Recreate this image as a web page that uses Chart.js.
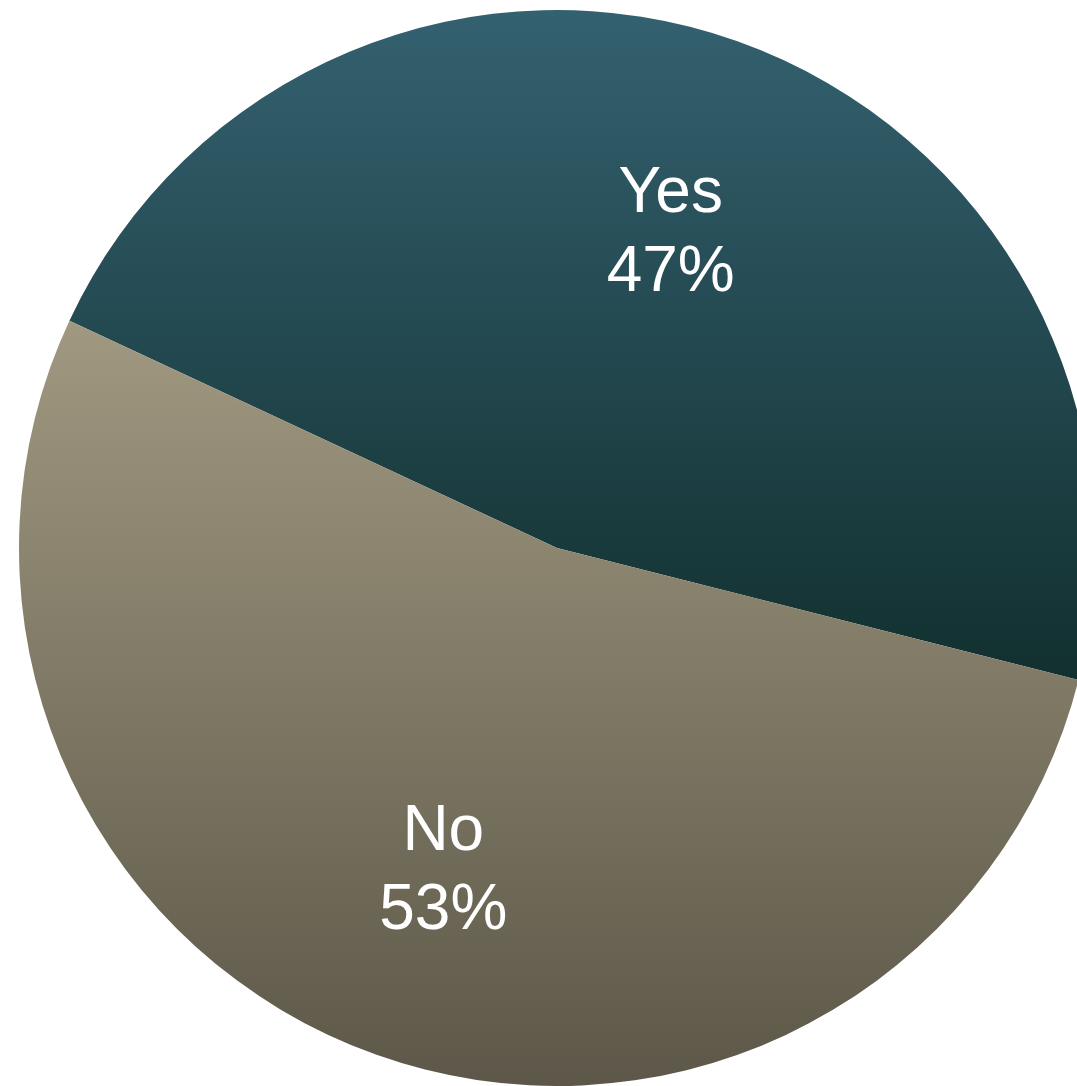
<!DOCTYPE html>
<html>
<head>
<meta charset="utf-8">
<script src="https://cdn.jsdelivr.net/npm/chart.js@4.4.1/dist/chart.umd.min.js"></script>
<style>
    html, body { margin: 0; padding: 0; overflow: hidden; background: #fff; }
    #wrap { position: absolute; left: 0; top: 0; width: 1114px; height: 1086px; }
</style>
</head>
<body>
<div id="wrap"><canvas id="pieChart"></canvas></div>
<script>
const labels = ['Yes', 'No'];
const values = [47, 53];
// gradient stops per slice, [position, colour]
const sliceStops = [
    [[0, '#346170'], [0.62, '#12302f'], [1, '#0a2222']],
    [[0, '#b2a88e'], [0.29, '#a09880'], [1, '#5c5748']]
];

function sliceGradient(context) {
    const chart = context.chart;
    const area = chart.chartArea;
    if (!area) return '#888';
    const g = chart.ctx.createLinearGradient(0, area.top, 0, area.bottom);
    sliceStops[context.dataIndex].forEach(s => g.addColorStop(s[0], s[1]));
    return g;
}

// Draw "label / pct" inside each slice
const sliceLabels = {
    id: 'sliceLabels',
    afterDatasetsDraw(chart) {
        const ctx = chart.ctx;
        const meta = chart.getDatasetMeta(0);
        const total = values.reduce((a, b) => a + b, 0);
        ctx.save();
        ctx.fillStyle = '#ffffff';
        ctx.font = '64px "Liberation Sans", Arial, sans-serif';
        ctx.textAlign = 'center';
        ctx.textBaseline = 'alphabetic';
        meta.data.forEach((arc, i) => {
            const p = arc.getProps(['x', 'y', 'startAngle', 'endAngle', 'outerRadius'], true);
            const mid = (p.startAngle + p.endAngle) / 2;
            const r = p.outerRadius * 0.63;
            const x = p.x + Math.cos(mid) * r;
            const y = p.y + Math.sin(mid) * r + 1;
            ctx.fillText(labels[i], x, y - 18);
            ctx.fillText(Math.round(values[i] / total * 100) + '%', x, y + 61);
        });
        ctx.restore();
    }
};

const pieChart = new Chart(document.getElementById('pieChart').getContext('2d'), {
    type: 'pie',
    data: {
        labels: labels,
        datasets: [{
            data: values,
            backgroundColor: sliceGradient,
            borderWidth: 0
        }]
    },
    options: {
        responsive: true,
        maintainAspectRatio: false,
        animation: false,
        rotation: -65,
        layout: { padding: { top: 10, bottom: 0, left: 0, right: 0 } },
        plugins: {
            legend: { display: false },
            tooltip: { enabled: false }
        }
    },
    plugins: [sliceLabels]
});
</script>
</body>
</html>
